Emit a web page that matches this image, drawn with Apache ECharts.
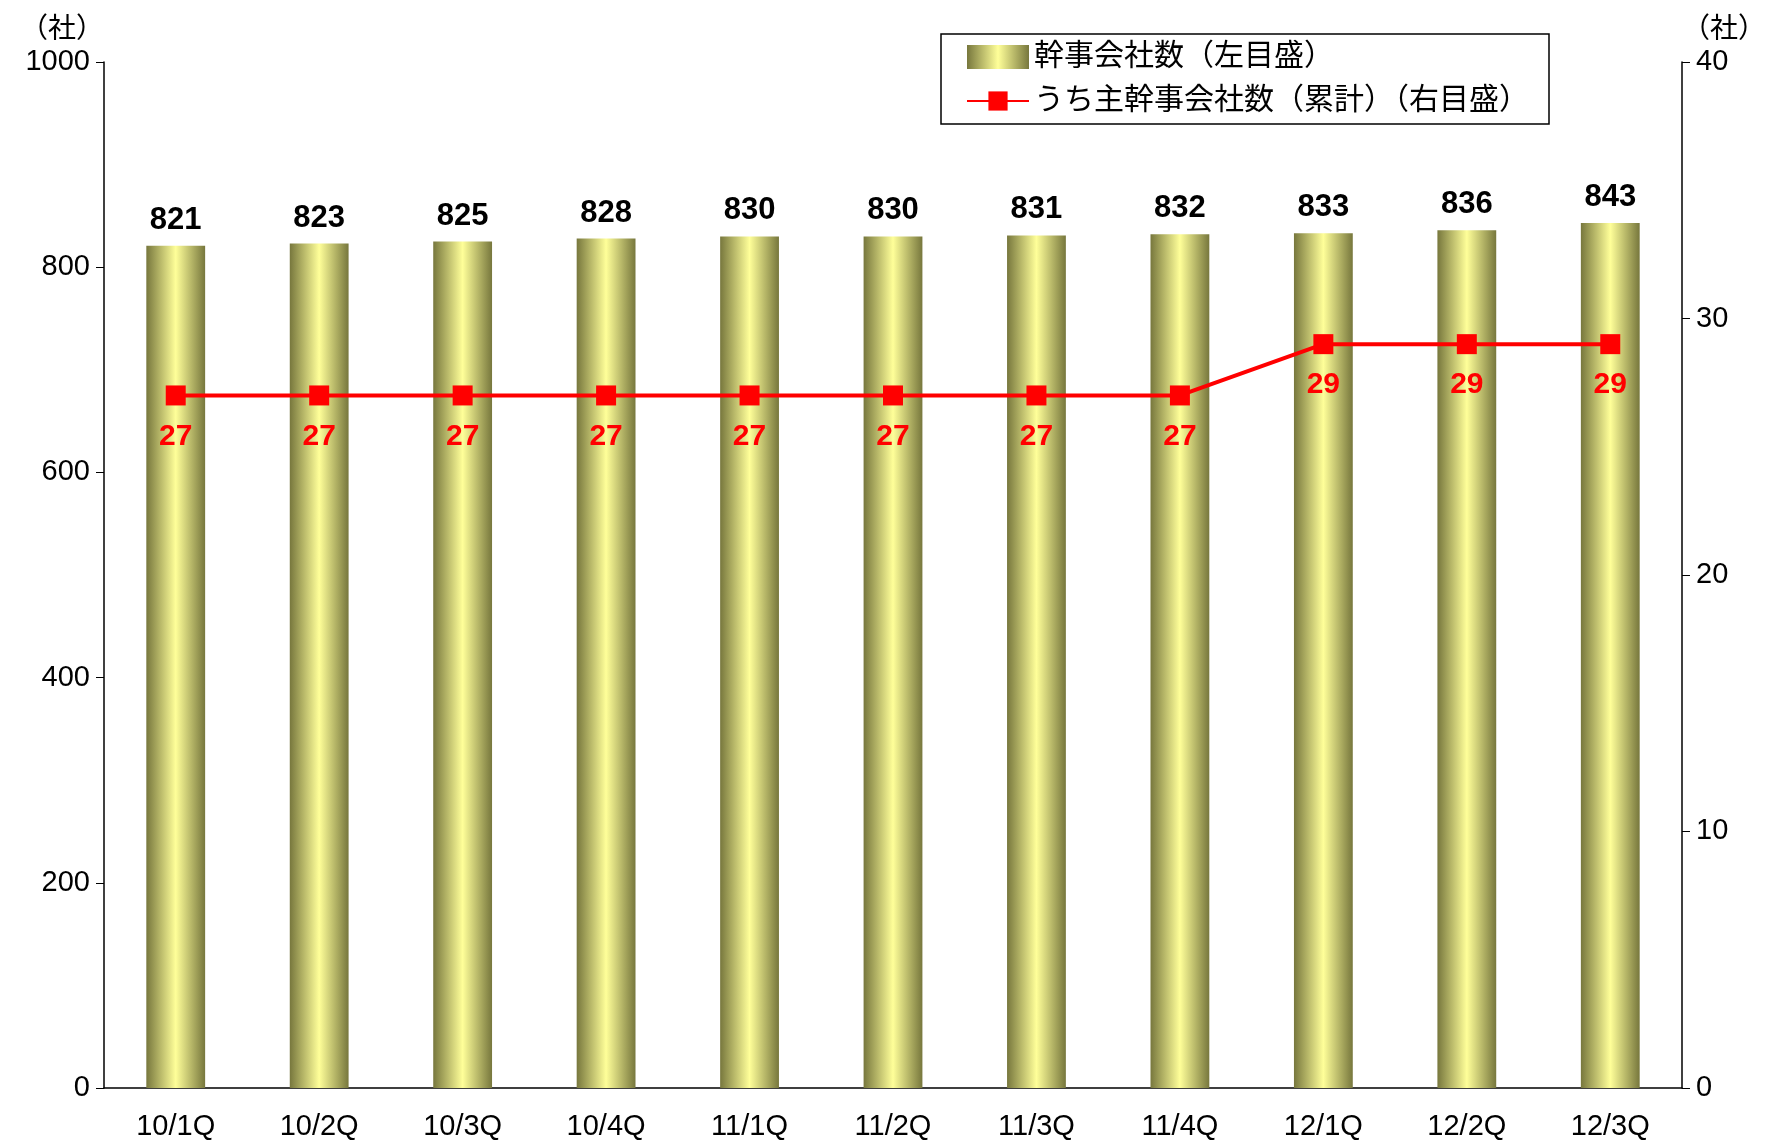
<!DOCTYPE html>
<html><head><meta charset="utf-8">
<script src="https://cdn.jsdelivr.net/npm/echarts@6/dist/echarts.min.js"></script>
<style>html,body{margin:0;background:#fff}#box{width:1769px;height:1141px}</style>
</head><body><div id="box"></div>
<script>
var categories = ['10/1Q','10/2Q','10/3Q','10/4Q','11/1Q','11/2Q','11/3Q','11/4Q','12/1Q','12/2Q','12/3Q'];
var companies = [821,823,825,828,830,830,831,832,833,836,843];
var leadCompanies = [27,27,27,27,27,27,27,27,29,29,29];

var chart = echarts.init(document.getElementById('box'));
var font = 'Arial, "Liberation Sans", "Noto Sans CJK JP"';
var barColor = new echarts.graphic.LinearGradient(0,0,1,0,[
  {offset:0,color:'#77773d'},{offset:0.5,color:'#ffff99'},{offset:1,color:'#77773d'}]);

chart.setOption({
  textStyle:{fontFamily:font},
  grid:{left:104,right:68,top:62,bottom:51},
  legend:{
    right:220,top:34,orient:'vertical',itemGap:14,itemWidth:62,itemHeight:24,
    backgroundColor:'#fff',borderColor:'#000',borderWidth:1.5,padding:[8,20,8,25],
    textStyle:{fontSize:30,color:'#000',fontFamily:font},
    data:[{name:'幹事会社数（左目盛）',icon:'rect'},{name:'うち主幹事会社数（累計）（右目盛）'}]
  },
  xAxis:{type:'category',data:categories,
    axisLine:{lineStyle:{color:'#000',width:1.5}},
    axisTick:{lineStyle:{color:'#000'},length:6},
    axisLabel:{fontSize:29,color:'#000',margin:24}},
  yAxis:[
    {type:'value',min:0,max:1000,interval:200,name:'（社）',nameGap:18,
      nameTextStyle:{fontSize:28,color:'#000',align:'right'},
      axisLine:{show:true,lineStyle:{color:'#000',width:1.5}},
      axisTick:{show:true,lineStyle:{color:'#000'},length:8},
      axisLabel:{fontSize:29,color:'#000',margin:14,formatter:function(v){return String(v);}},
      splitLine:{show:false}},
    {type:'value',min:0,max:40,interval:10,name:'（社）',nameGap:18,
      nameTextStyle:{fontSize:28,color:'#000',align:'left'},
      axisLine:{show:true,lineStyle:{color:'#000',width:1.5}},
      axisTick:{show:true,lineStyle:{color:'#000'},length:8},
      axisLabel:{fontSize:29,color:'#000',margin:14},splitLine:{show:false}}
  ],
  series:[
    {name:'幹事会社数（左目盛）',type:'bar',data:companies,barWidth:'41%',
      itemStyle:{color:barColor},
      label:{show:true,position:'top',distance:10,fontSize:31,fontWeight:'bold',color:'#000'}},
    {name:'うち主幹事会社数（累計）（右目盛）',type:'line',yAxisIndex:1,data:leadCompanies,
      symbol:'rect',symbolSize:20,lineStyle:{color:'#ff0000',width:4},
      itemStyle:{color:'#ff0000'},
      label:{show:true,position:'bottom',distance:16,fontSize:30,fontWeight:'bold',color:'#ff0000'}}
  ]
});
</script></body></html>
